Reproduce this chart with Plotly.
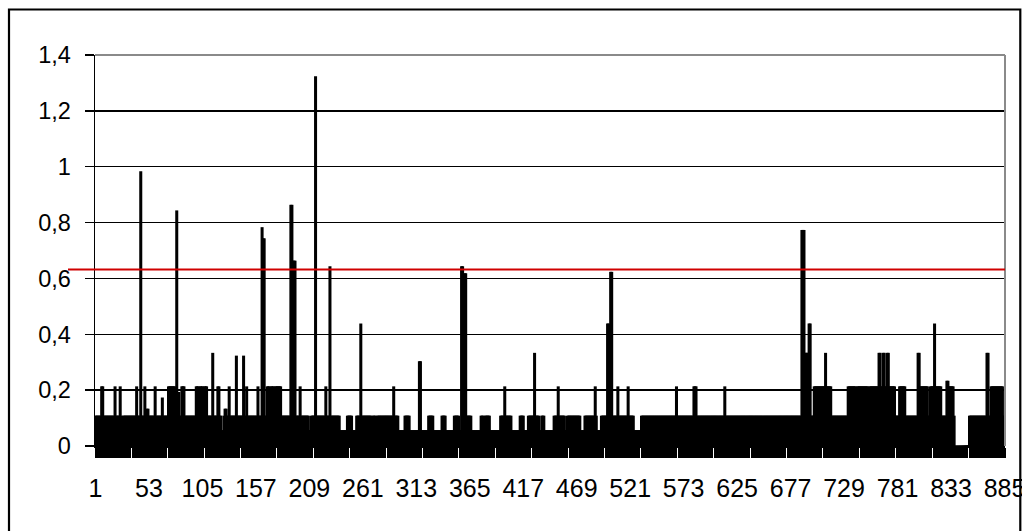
import plotly.graph_objects as go

# ---- data ----
categories = list(range(1, 886))

values = [
    0.105, 0.105, 0.105, 0.105, 0.105, 0.105, 0.21, 0.21, 0.105, 0.105,
    0.105, 0.105, 0.105, 0.105, 0.105, 0.105, 0.105, 0.105, 0.105, 0.21,
    0.105, 0.105, 0.105, 0.105, 0.21, 0.105, 0.053, 0.105, 0.105, 0.105,
    0.105, 0.105, 0.105, 0.105, 0.105, 0.105, 0.105, 0.105, 0.105, 0.105,
    0.21, 0.105, 0.105, 0.105, 0.98, 0.105, 0.105, 0.105, 0.21, 0.105,
    0.13, 0.13, 0.105, 0.105, 0.105, 0.105, 0.105, 0.105, 0.21, 0.105,
    0.105, 0.105, 0.105, 0.105, 0.105, 0.17, 0.105, 0.105, 0.105, 0.105,
    0.105, 0.21, 0.21, 0.21, 0.21, 0.21, 0.21, 0.21, 0.105,
    0.84, 0.105, 0.19, 0.105, 0.105, 0.21, 0.21, 0.21, 0.105, 0.105,
    0.105, 0.105, 0.105, 0.105, 0.105, 0.105, 0.105, 0.105, 0.105, 0.21,
    0.21, 0.21, 0.105, 0.21, 0.21, 0.21, 0.105, 0.21, 0.21, 0.21,
    0.105, 0.105, 0.105, 0.105, 0.105, 0.33, 0.105, 0.105, 0.105, 0.105,
    0.21, 0.21, 0.105, 0.105, 0.053, 0.053, 0.105, 0.13, 0.13, 0.105,
    0.105, 0.21, 0.105, 0.105, 0.105, 0.105, 0.105, 0.105, 0.32, 0.105,
    0.105, 0.105, 0.105, 0.105, 0.105, 0.32, 0.105, 0.105, 0.21, 0.105,
    0.105, 0.105, 0.105, 0.105, 0.105, 0.105, 0.105, 0.105, 0.105, 0.21,
    0.105, 0.105, 0.105, 0.78, 0.74, 0.74, 0.105, 0.105, 0.21, 0.21,
    0.21, 0.105, 0.21, 0.21, 0.21, 0.105, 0.21, 0.21, 0.21, 0.21,
    0.21, 0.21, 0.105, 0.105, 0.105, 0.105, 0.105, 0.105, 0.105, 0.105,
    0.105, 0.86, 0.86, 0.66, 0.66, 0.66, 0.105, 0.105, 0.105, 0.105,
    0.21, 0.105, 0.105, 0.105, 0.105, 0.105, 0.105, 0.105, 0.105, 0.053,
    0.053, 0.105, 0.105, 0.105, 0.105, 1.32, 0.105, 0.105, 0.105, 0.105,
    0.105, 0.105, 0.105, 0.105, 0.105, 0.21, 0.105, 0.105, 0.105,
    0.64, 0.105, 0.105, 0.105, 0.105, 0.105, 0.105, 0.105, 0.105, 0.105,
    0.053, 0.053, 0.053, 0.053, 0.053, 0.053, 0.053, 0.105, 0.105, 0.105,
    0.105, 0.105, 0.053, 0.053, 0.053, 0.053, 0.105, 0.105, 0.105, 0.105,
    0.435, 0.105, 0.105, 0.105, 0.105, 0.105, 0.105, 0.105, 0.105, 0.105,
    0.105, 0.053, 0.105, 0.105, 0.105, 0.053, 0.105, 0.105, 0.105, 0.105,
    0.105, 0.105, 0.105, 0.105, 0.105, 0.105, 0.105, 0.105, 0.105, 0.105,
    0.105, 0.105, 0.21, 0.105, 0.105, 0.105, 0.105, 0.053, 0.053, 0.053,
    0.053, 0.053, 0.053, 0.105, 0.105, 0.105, 0.105, 0.105, 0.053, 0.053,
    0.053, 0.053, 0.053, 0.053, 0.053, 0.053, 0.053, 0.30, 0.30, 0.053,
    0.053, 0.053, 0.053, 0.053, 0.053, 0.053, 0.105, 0.105, 0.105, 0.105,
    0.105, 0.053, 0.053, 0.053, 0.053, 0.053, 0.053, 0.053, 0.053, 0.105,
    0.105, 0.105, 0.105, 0.053, 0.053, 0.053, 0.053, 0.053, 0.053, 0.053,
    0.053, 0.105, 0.105, 0.105, 0.105, 0.105, 0.053, 0.053, 0.64, 0.64,
    0.105, 0.615, 0.615, 0.105, 0.105, 0.105, 0.105, 0.105, 0.053, 0.053,
    0.053, 0.053, 0.053, 0.053, 0.053, 0.053, 0.053, 0.105, 0.105,
    0.105, 0.053, 0.105, 0.105, 0.105, 0.105, 0.105, 0.053, 0.053, 0.053,
    0.053, 0.053, 0.053, 0.053, 0.053, 0.053, 0.053, 0.105, 0.105, 0.105,
    0.105, 0.21, 0.105, 0.105, 0.105, 0.105, 0.105, 0.105, 0.053, 0.053,
    0.053, 0.053, 0.053, 0.053, 0.053, 0.053, 0.105, 0.105, 0.105, 0.105,
    0.053, 0.053, 0.053, 0.053, 0.105, 0.105, 0.105, 0.105, 0.105, 0.105,
    0.33, 0.105, 0.105, 0.105, 0.105, 0.053, 0.053, 0.105, 0.105, 0.105,
    0.053, 0.053, 0.053, 0.053, 0.053, 0.053, 0.053, 0.053, 0.053, 0.105,
    0.105, 0.105, 0.105, 0.21, 0.105, 0.105, 0.105, 0.105, 0.105, 0.105,
    0.053, 0.053, 0.105, 0.105, 0.105, 0.105, 0.105, 0.105, 0.105, 0.105,
    0.105, 0.105, 0.105, 0.105, 0.105, 0.053, 0.053, 0.053, 0.053, 0.105,
    0.105, 0.105, 0.105, 0.105, 0.105, 0.105, 0.105, 0.105, 0.105, 0.21,
    0.105, 0.053, 0.053, 0.053, 0.053, 0.105, 0.105, 0.105, 0.105, 0.105,
    0.105, 0.435, 0.435, 0.105, 0.62, 0.62, 0.105, 0.105, 0.105, 0.105,
    0.105, 0.21, 0.105, 0.105, 0.105, 0.105, 0.105, 0.105, 0.105, 0.105,
    0.105, 0.21, 0.105, 0.105, 0.105, 0.105, 0.105, 0.053, 0.053,
    0.053, 0.053, 0.053, 0.053, 0.053, 0.105, 0.105, 0.105, 0.105, 0.105,
    0.105, 0.105, 0.105, 0.105, 0.105, 0.105, 0.105, 0.105, 0.105, 0.105,
    0.105, 0.105, 0.105, 0.105, 0.105, 0.105, 0.105, 0.105, 0.105, 0.105,
    0.105, 0.105, 0.105, 0.105, 0.105, 0.105, 0.105, 0.105, 0.105, 0.21,
    0.105, 0.105, 0.105, 0.105, 0.105, 0.105, 0.105, 0.105, 0.105, 0.105,
    0.105, 0.105, 0.105, 0.105, 0.105, 0.105, 0.21, 0.21, 0.21, 0.105,
    0.105, 0.105, 0.105, 0.105, 0.105, 0.105, 0.105, 0.105, 0.105, 0.105,
    0.105, 0.105, 0.105, 0.105, 0.105, 0.105, 0.105, 0.105, 0.105, 0.105,
    0.105, 0.105, 0.105, 0.105, 0.105, 0.105, 0.21, 0.105, 0.105, 0.105,
    0.105, 0.105, 0.105, 0.105, 0.105, 0.105, 0.105, 0.105, 0.105, 0.105,
    0.105, 0.105, 0.105, 0.105, 0.105, 0.105, 0.105, 0.105, 0.105, 0.105,
    0.105, 0.105, 0.105, 0.105, 0.105, 0.105, 0.105, 0.105, 0.105, 0.105,
    0.105, 0.105, 0.105, 0.105, 0.105, 0.105, 0.105, 0.105, 0.105, 0.105,
    0.105, 0.105, 0.105, 0.105, 0.105, 0.105, 0.105, 0.105, 0.105,
    0.105, 0.105, 0.105, 0.105, 0.105, 0.105, 0.105, 0.105, 0.105, 0.105,
    0.105, 0.105, 0.105, 0.105, 0.105, 0.105, 0.105, 0.105, 0.105, 0.105,
    0.105, 0.105, 0.77, 0.77, 0.77, 0.33, 0.33, 0.33, 0.33, 0.435,
    0.435, 0.105, 0.105, 0.105, 0.21, 0.21, 0.21, 0.21, 0.21, 0.21,
    0.21, 0.21, 0.21, 0.21, 0.21, 0.33, 0.21, 0.21, 0.21, 0.21,
    0.21, 0.105, 0.105, 0.105, 0.105, 0.105, 0.105, 0.105, 0.105, 0.105,
    0.105, 0.105, 0.105, 0.105, 0.105, 0.105, 0.105, 0.21, 0.21, 0.21,
    0.21, 0.21, 0.21, 0.21, 0.21, 0.105, 0.21, 0.21, 0.21, 0.21,
    0.21, 0.21, 0.21, 0.21, 0.21, 0.21, 0.21, 0.105, 0.21, 0.21,
    0.21, 0.21, 0.21, 0.21, 0.21, 0.21, 0.21, 0.33, 0.33, 0.21,
    0.21, 0.33, 0.33, 0.21, 0.21, 0.33, 0.33, 0.21, 0.21, 0.21,
    0.21, 0.21, 0.21, 0.105, 0.105, 0.105, 0.105, 0.21, 0.21, 0.21,
    0.21, 0.21, 0.21, 0.105, 0.105, 0.105, 0.105, 0.105, 0.105, 0.105,
    0.105, 0.105, 0.105, 0.105, 0.105, 0.33, 0.33, 0.21, 0.21, 0.21,
    0.21, 0.21, 0.21, 0.21, 0.21, 0.105, 0.105, 0.21, 0.21,
    0.21, 0.21, 0.435, 0.21, 0.21, 0.21, 0.21, 0.21, 0.21, 0.105,
    0.105, 0.105, 0.105, 0.105, 0.23, 0.23, 0.21, 0.21, 0.21, 0.21,
    0.21, 0.105, 0.0, 0.0, 0.0, 0.0, 0.0, 0.0, 0.0, 0.0,
    0.0, 0.0, 0.0, 0.0, 0.0, 0.0, 0.105, 0.105, 0.105, 0.105,
    0.105, 0.105, 0.105, 0.105, 0.105, 0.105, 0.105, 0.105, 0.105, 0.105,
    0.105, 0.105, 0.105, 0.33, 0.33, 0.105, 0.105, 0.21, 0.21, 0.21,
    0.21, 0.21, 0.21, 0.21, 0.21, 0.21, 0.21, 0.21, 0.21, 0.105,
    0.105,
]

x_tick_values = [1, 53, 105, 157, 209, 261, 313, 365, 417, 469, 521, 573,
                 625, 677, 729, 781, 833, 885]
x_tick_labels = ["1", "53", "105", "157", "209", "261", "313", "365", "417",
                 "469", "521", "573", "625", "677", "729", "781", "833", "885"]
y_tick_values = [0, 0.2, 0.4, 0.6, 0.8, 1.0, 1.2, 1.4]
y_tick_labels = ["0", "0,2", "0,4", "0,6", "0,8", "1", "1,2", "1,4"]
threshold = 0.632

# ---- figure ----
W, H = 1022, 531
ML, MR, MT, MB = 95, 17, 55, 85
pw = W - ML - MR
ph = H - MT - MB

def px_to_paper_x(px):
    return (px - ML) / pw

def py_to_paper_y(py):
    return (H - MB - py) / ph

fig = go.Figure(
    go.Bar(
        x=categories,
        y=values,
        width=1,
        marker=dict(color="black", line=dict(color="black", width=2)),
        hoverinfo="skip",
    )
)

font_family = "Liberation Sans, Arial, sans-serif"

fig.update_layout(
    width=W,
    height=H,
    autosize=False,
    margin=dict(l=ML, r=MR, t=MT, b=MB, pad=0, autoexpand=False),
    paper_bgcolor="white",
    plot_bgcolor="white",
    bargap=0,
    showlegend=False,
    font=dict(family=font_family, color="black"),
)

fig.update_xaxes(
    automargin=False,
    ticklabeloverflow="allow",
    range=[0.5, len(categories) + 0.5],
    tickmode="array",
    tickvals=x_tick_values,
    ticktext=x_tick_labels,
    ticks="outside",
    ticklen=10,
    tickwidth=1,
    tickcolor="black",
    tickfont=dict(size=25, family=font_family, color="black"),
    ticklabelstandoff=9,
    showline=True,
    linecolor="black",
    linewidth=1.5,
    showgrid=False,
    zeroline=False,
    minor=dict(
        tickmode="linear",
        tick0=0.5,
        dtick=1,
        ticks="outside",
        ticklen=10,
        tickwidth=1,
        tickcolor="black",
        showgrid=False,
    ),
)

fig.update_yaxes(
    automargin=False,
    range=[0, 1.4],
    tickmode="array",
    tickvals=y_tick_values,
    ticktext=y_tick_labels,
    ticks="outside",
    ticklen=9,
    tickwidth=1.5,
    tickcolor="black",
    tickfont=dict(size=23.5, family=font_family, color="black"),
    ticklabelstandoff=9,
    showline=True,
    linecolor="black",
    linewidth=1.5,
    showgrid=True,
    gridcolor="black",
    gridwidth=1.5,
    zeroline=False,
)

shapes = [
    # grey plot-area border on top and right
    dict(type="line", xref="paper", yref="paper", x0=0, x1=1, y0=1, y1=1,
         line=dict(color="#8a8a8a", width=2)),
    dict(type="line", xref="paper", yref="paper", x0=1, x1=1, y0=0, y1=1,
         line=dict(color="#8a8a8a", width=2)),
    # red threshold line
    dict(type="line", xref="paper", yref="y", x0=px_to_paper_x(68), x1=1,
         y0=threshold, y1=threshold, line=dict(color="#d00000", width=2)),
    # outer chart border
    dict(type="rect", xref="paper", yref="paper",
         x0=px_to_paper_x(9), x1=px_to_paper_x(1020.3),
         y0=py_to_paper_y(545), y1=py_to_paper_y(9.5),
         line=dict(color="black", width=2.2), fillcolor="rgba(0,0,0,0)"),
]
fig.update_layout(shapes=shapes)

fig.write_html(
    "out.html",
    config={"displayModeBar": False, "staticPlot": True, "responsive": False},
    post_script="document.body.style.margin='0';document.body.style.overflow='hidden';",
)
